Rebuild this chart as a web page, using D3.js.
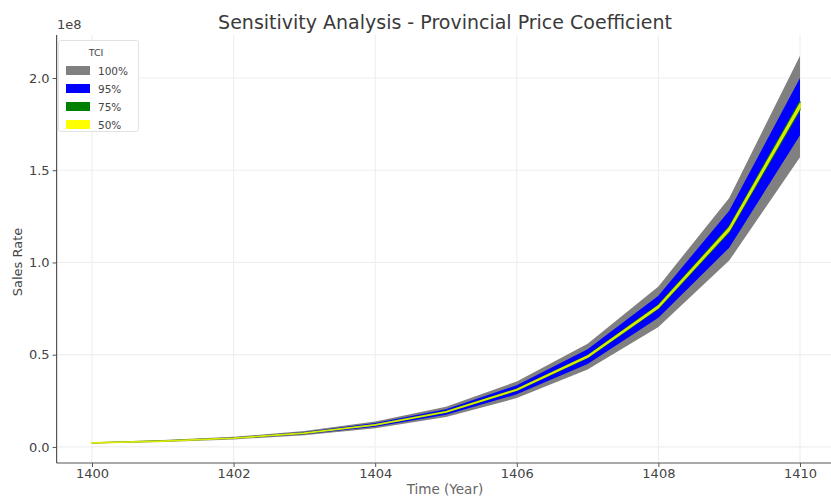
<!DOCTYPE html>
<html><head><meta charset="utf-8">
<script src="https://cdn.jsdelivr.net/npm/d3@7/dist/d3.min.js"></script>
<style>body{margin:0;background:#fff}svg{display:block}text{font-family:"DejaVu Sans",sans-serif}</style>
</head><body><svg id="c" width="831" height="499"></svg>
<script>
const years = [1400,1401,1402,1403,1404,1405,1406,1407,1408,1409,1410];
const tci100Upper = [0.025,0.037,0.055,0.086,0.138,0.218,0.355,0.56,0.87,1.35,2.12];
const tci100Lower = [0.019,0.027,0.041,0.064,0.102,0.162,0.265,0.42,0.65,1.01,1.57];
const tci95Upper = [0.024,0.035,0.052,0.081,0.130,0.205,0.335,0.53,0.82,1.28,2.00];
const tci95Lower = [0.020,0.029,0.044,0.069,0.110,0.175,0.285,0.45,0.70,1.08,1.69];
const tci75Upper = [0.0223,0.0324,0.0486,0.0760,0.1215,0.1925,0.3140,0.4960,0.770,1.195,1.873];
const tci75Lower = [0.0217,0.0316,0.0474,0.0740,0.1185,0.1875,0.3060,0.4840,0.750,1.165,1.827];
const tci50Upper = [0.0221,0.0322,0.0483,0.0754,0.1206,0.1910,0.3115,0.4925,0.764,1.186,1.860];
const tci50Lower = [0.0219,0.0318,0.0477,0.0746,0.1194,0.1890,0.3085,0.4875,0.756,1.174,1.840];
const xTicks = [1400,1402,1404,1406,1408,1410];
const yTicks = [0,0.5,1.0,1.5,2.0];
const legendLabels = ["100%","95%","75%","50%"];
const legendColors = ["#808080","#0000ff","#008000","#ffff00"];

const svg = d3.select("#c");
const x = d3.scaleLinear().domain([1399.5,1410.5]).range([56.6,835.4]);
const y = d3.scaleLinear().domain([-0.087,2.233]).range([463,35]);
const txt = "#444";

// grid
const g = svg.append("g");
g.selectAll(".gy").data(yTicks).enter().append("line")
  .attr("x1",56).attr("x2",831).attr("y1",d=>y(d)).attr("y2",d=>y(d))
  .attr("stroke","#efefef").attr("stroke-width",1.2);
g.selectAll(".gx").data(xTicks).enter().append("line")
  .attr("y1",35).attr("y2",463).attr("x1",d=>x(d)).attr("x2",d=>x(d))
  .attr("stroke","#efefef").attr("stroke-width",1.2);

const bands = [
  {u:tci100Upper,l:tci100Lower,c:legendColors[0],sw:0,op:1},
  {u:tci95Upper,l:tci95Lower,c:legendColors[1],sw:0,op:1},
  {u:tci75Upper,l:tci75Lower,c:legendColors[2],sw:1.2,op:0.9},
  {u:tci50Upper,l:tci50Lower,c:legendColors[3],sw:1.6,op:0.85}
];
bands.forEach(b=>{
  const area = d3.area().x((d,i)=>x(years[i])).y0((d,i)=>y(b.l[i])).y1((d,i)=>y(b.u[i]));
  svg.append("path").datum(years).attr("d",area).attr("fill",b.c).attr("opacity",b.op)
    .attr("stroke",b.sw?b.c:"none").attr("stroke-width",b.sw).attr("stroke-linejoin","round");
});

// axes
const xAxis = d3.axisBottom(x).tickValues(xTicks).tickFormat(d3.format("d")).tickSize(4).tickPadding(2);
const yAxis = d3.axisLeft(y).tickValues(yTicks).tickFormat(d3.format(".1f")).tickSize(4).tickPadding(3);
const gx = svg.append("g").attr("transform","translate(0,463)").call(xAxis);
const gy = svg.append("g").attr("transform","translate(56.6,0)").call(yAxis);
[gx,gy].forEach(a=>{
  a.select(".domain").attr("stroke","#555").attr("stroke-width",1.2);
  a.selectAll(".tick line").attr("stroke","#555");
  a.selectAll(".tick text").attr("fill",txt).style("font-size","13px").style("font-family","DejaVu Sans");
});
gx.select(".domain").attr("d","M56.6,0H831");
gy.select(".domain").attr("d","M0,35V463");

svg.append("text").attr("x",57).attr("y",29).attr("fill",txt).style("font-size","13px").text("1e8");
svg.append("text").attr("x",445).attr("y",29).attr("text-anchor","middle").attr("fill","#3a3a3a")
  .style("font-size","19px").text("Sensitivity Analysis - Provincial Price Coefficient");
svg.append("text").attr("x",445).attr("y",494).attr("text-anchor","middle").attr("fill","#666")
  .style("font-size","13.5px").text("Time (Year)");
svg.append("text").attr("transform","translate(22,262) rotate(-90)").attr("text-anchor","middle").attr("fill",txt)
  .style("font-size","13px").text("Sales Rate");

// legend
const lg = svg.append("g");
lg.append("rect").attr("x",58.5).attr("y",40.5).attr("width",80).attr("height",91).attr("rx",2)
  .attr("fill","#fff").attr("fill-opacity",0.85).attr("stroke","#e2e2e2");
lg.append("text").attr("x",96).attr("y",56).attr("text-anchor","middle").attr("fill",txt).style("font-size","9.5px").text("TCI");
legendLabels.forEach((lab,i)=>{
  const yy = 70.5 + i*18;
  lg.append("rect").attr("x",66).attr("y",yy-4.5).attr("width",24).attr("height",9).attr("fill",legendColors[i]);
  lg.append("text").attr("x",98).attr("y",yy+4).attr("fill",txt).style("font-size","10.5px").text(lab);
});
</script></body></html>
